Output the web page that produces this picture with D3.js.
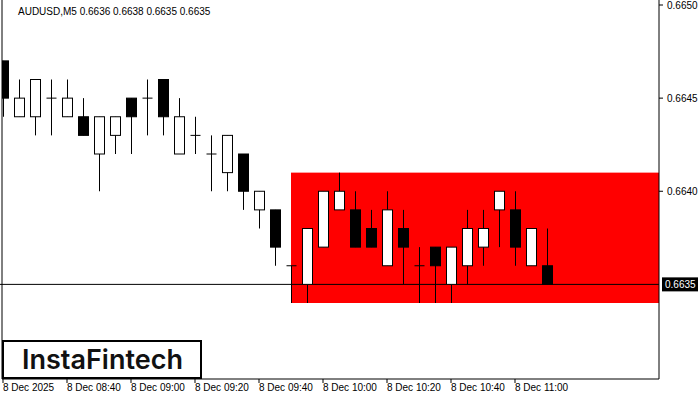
<!DOCTYPE html>
<html><head><meta charset="utf-8">
<script src="https://cdn.jsdelivr.net/npm/d3@7"></script>
<style>body{margin:0;background:#fff}</style>
</head><body>
<script>
// bougies M5, en 0.0001 au-dessus de 0.6630
const opens  = [17,14,14,15,14,14,12,13,15,15,16,12,13,12,11,12, 9, 9, 6, 5, 7, 9, 9, 8, 6, 8, 6, 7, 5, 6, 7, 9, 9, 6, 6];
const highs  = [17,16,16,16,16,15,14,14,15,16,16,15,14,13,13,12,10, 9, 6, 8,10,11,10, 9,10, 9, 7, 7, 7, 9, 9,10,10, 8, 8];
const lows   = [14,14,13,13,14,13,10,12,12,13,13,12,12,10,10, 9, 8, 6, 4, 4, 7, 9, 7, 7, 6, 5, 4, 4, 4, 5, 6, 7, 6, 6, 5];
const closes = [15,15,16,15,15,13,14,14,14,15,14,14,13,12,13,10,10, 7, 6, 8,10,10, 7, 7, 9, 7, 6, 6, 7, 8, 8,10, 7, 8, 5];
const timeLabels = ["8 Dec 2025","8 Dec 08:40","8 Dec 09:00","8 Dec 09:20","8 Dec 09:40","8 Dec 10:00","8 Dec 10:20","8 Dec 10:40","8 Dec 11:00"];
const priceTicks = [0.6650, 0.6645, 0.6640];
const lastPrice = 0.6635;
const zoneTop = 0.6641, zoneBottom = 0.6634, zoneStart = 18;

const W = 700, H = 400, right = 659, bottom = 379;
const svg = d3.select("body").append("svg").attr("width", W).attr("height", H)
  .style("font-family", "'Liberation Sans', Arial, sans-serif");

const x = d3.scaleLinear().domain([0, 1]).range([3.5, 19.5]);
const y = d3.scaleLinear().domain([0.6634, 0.6650]).range([303, 5]);
const p = v => 0.6630 + v / 10000;

// zone rouge
svg.append("rect").attr("x", x(zoneStart) - 0.5).attr("y", y(zoneTop))
  .attr("width", right - x(zoneStart) + 0.5).attr("height", y(zoneBottom) - y(zoneTop))
  .attr("fill", "#ff0000");

// ligne du dernier prix
svg.append("line").attr("x1", 0).attr("x2", right).attr("y1", y(lastPrice)).attr("y2", y(lastPrice))
  .attr("stroke", "#000").attr("stroke-width", 1);

const g = svg.append("g").attr("clip-path", "url(#clip)");
svg.append("clipPath").attr("id", "clip").append("rect").attr("x", 2).attr("y", 0).attr("width", right - 2).attr("height", bottom);

const candles = g.selectAll("g.c").data(opens).enter().append("g");
candles.append("line")
  .attr("x1", (d, i) => x(i)).attr("x2", (d, i) => x(i))
  .attr("y1", (d, i) => y(p(highs[i]))).attr("y2", (d, i) => y(p(lows[i])))
  .attr("stroke", "#000").attr("stroke-width", 1);
candles.each(function (d, i) {
  const o = opens[i], c = closes[i], s = d3.select(this);
  if (o === c) {
    s.append("line").attr("x1", x(i) - 5).attr("x2", x(i) + 5)
      .attr("y1", y(p(o))).attr("y2", y(p(o))).attr("stroke", "#000");
  } else {
    s.append("rect").attr("x", x(i) - 5).attr("width", 10)
      .attr("y", y(p(Math.max(o, c)))).attr("height", y(p(Math.min(o, c))) - y(p(Math.max(o, c))))
      .attr("fill", c > o ? "#fff" : "#000").attr("stroke", "#000").attr("stroke-width", 1);
  }
});

// cadre
svg.append("line").attr("x1", 2).attr("x2", 2).attr("y1", 0).attr("y2", bottom).attr("stroke", "#000");
svg.append("line").attr("x1", right).attr("x2", right).attr("y1", 0).attr("y2", bottom).attr("stroke", "#000");
svg.append("line").attr("x1", 2).attr("x2", right).attr("y1", bottom).attr("y2", bottom).attr("stroke", "#000");

// axe des prix
priceTicks.forEach(t => {
  svg.append("line").attr("x1", right).attr("x2", right + 4).attr("y1", y(t)).attr("y2", y(t)).attr("stroke", "#000");
  svg.append("text").attr("x", right + 8).attr("y", y(t) + 4).attr("font-size", 10).text(t.toFixed(4));
});
svg.append("rect").attr("x", right + 3).attr("y", y(lastPrice) - 7).attr("width", 36).attr("height", 14).attr("fill", "#000");
svg.append("text").attr("x", right + 6).attr("y", y(lastPrice) + 4).attr("font-size", 10).attr("fill", "#fff").text(lastPrice.toFixed(4));

// axe du temps
timeLabels.forEach((t, k) => {
  const xx = x(k * 4) - 0.5;
  svg.append("line").attr("x1", xx).attr("x2", xx).attr("y1", bottom).attr("y2", bottom + 4).attr("stroke", "#000");
  svg.append("text").attr("x", xx).attr("y", bottom + 12).attr("font-size", 10).text(t);
});

// titre
svg.append("text").attr("x", 18).attr("y", 15).attr("font-size", 10)
  .text("AUDUSD,M5  0.6636 0.6638 0.6635 0.6635");

// logo
svg.append("rect").attr("x", 3).attr("y", 341).attr("width", 198).attr("height", 37)
  .attr("fill", "#fff").attr("stroke", "#000").attr("stroke-width", 2);
svg.append("text").attr("x", 22).attr("y", 369).attr("font-size", 27).attr("font-weight", 600)
  .attr("font-family", "Inter, 'Open Sans', sans-serif").attr("fill", "#111").text("InstaFintech");
</script>
</body></html>
